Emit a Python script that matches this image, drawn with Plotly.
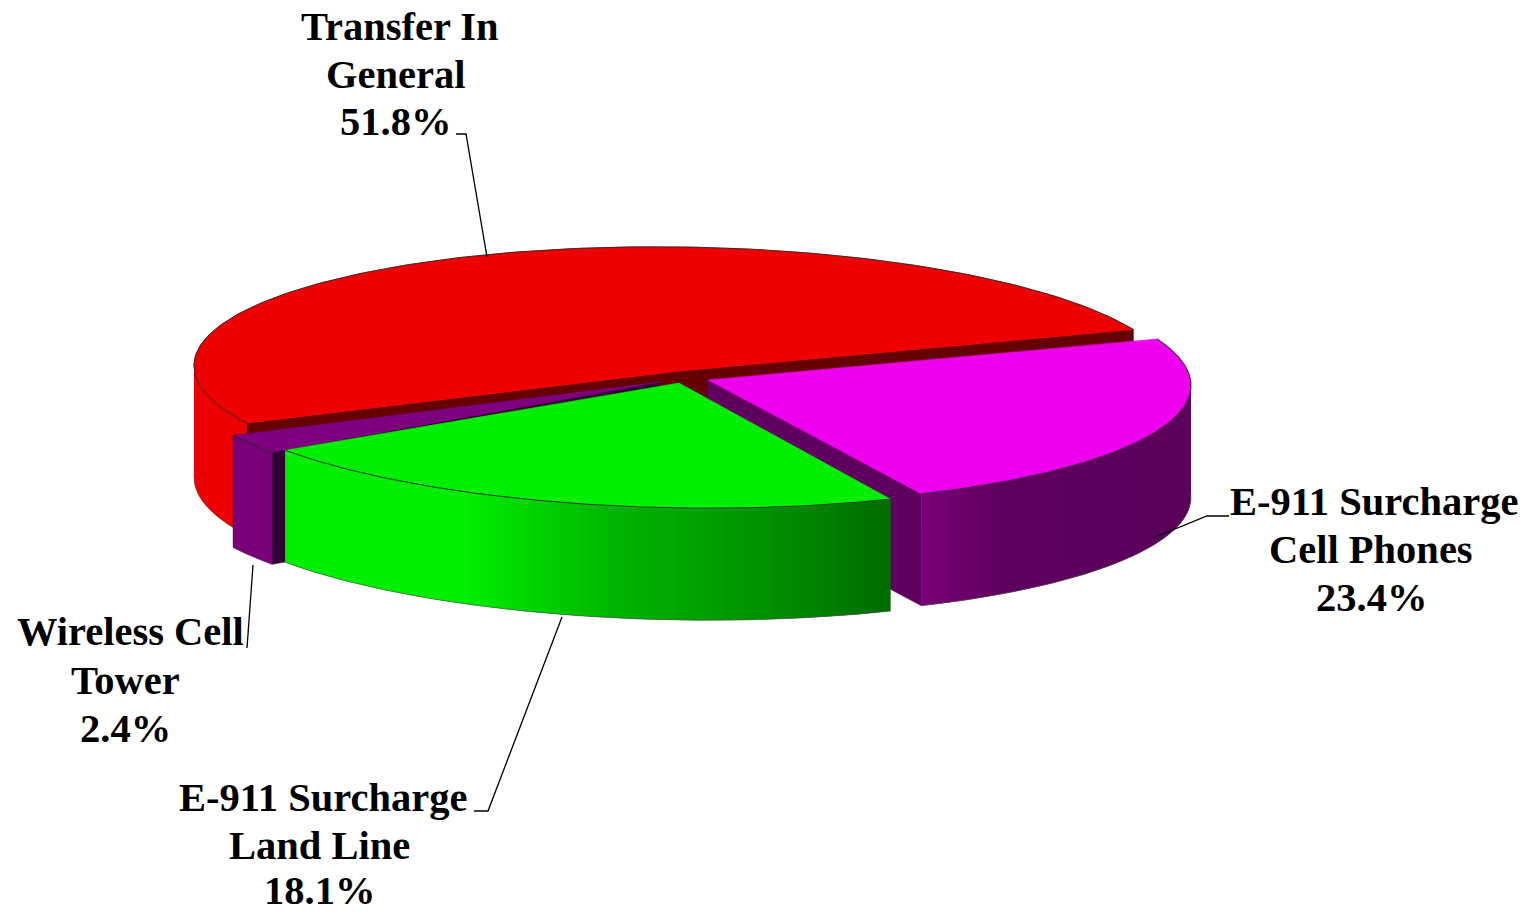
import numpy as np
import plotly.graph_objects as go

# ---- values ----
slice_names = ["Transfer In General", "Wireless Cell Tower", "E-911 Surcharge Land Line", "E-911 Surcharge Cell Phones"]
label_pcts = ["51.8%", "2.4%", "18.1%", "23.4%"]
# drawn arc widths as measured on the picture (percent of the circle)
arc_shares = [50.9, 2.4, 22.0, 23.5]
arc_gaps_after = [0.2, 0.0, 0.4, 0.5]

label_lines = [
    ["Transfer In", "General", "51.8%"],
    ["Wireless Cell", "Tower", "2.4%"],
    ["E-911 Surcharge", "Land Line", "18.1%"],
    ["E-911 Surcharge", "Cell Phones", "23.4%"],
]
label_x = [[400, 395, 395], [130, 125, 125], [323, 319, 319], [1374, 1371, 1371]]
label_y = [[26, 74, 121], [631, 680, 728], [797, 845, 890], [501, 549, 597]]
leader_x = [[456, 466, 487], [247, 253], [474, 488, 562], [1229, 1207, 1153]]
leader_y = [[134, 134, 257], [648, 565], [811, 811, 617], [516, 516, 538]]

# ---- style and layout of the pie ----
START = 23.5
RX, RY, SKEW, DEPTH = 490.0, 126.0, 0.015, 112.0
centers = [(684, 373), (668, 384), (681, 382), (701, 378)]
apexes = [(680, 371), (660, 382), (679, 383), (708, 380)]
top_col = ["#ee0000", "#7f007f", "#00ee00", "#ee00ee"]
wall_col = ["#660000", "#330033", "#006600", "#5f005f"]
side_stops = [
    [(0, "#ee0000"), (1, "#ee0000")],
    [(0, "#7a007a"), (1, "#7a007a")],
    [(0, "#00ee00"), (0.3, "#00ee00"), (0.55, "#00b400"), (0.7, "#00a000"), (0.85, "#008800"), (1, "#006c00")],
    [(0, "#7a007a"), (0.12, "#6e006e"), (0.3, "#600060"), (1, "#5c005c")],
]
side_range = [(165, None), (None, None), (None, None), (None, None)]
EDGE = "#2a2a2a"
draw_order = [0, 3, 1, 2]


def ell(c, t):
    r = np.radians(t)
    dx = RX * np.cos(r)
    return c[0] + dx, c[1] - RY * np.sin(r) + SKEW * dx


def hex2rgb(h):
    return np.array([int(h[i:i + 2], 16) for i in (1, 3, 5)], float)


def grad(stops, f):
    for (a, ca), (b, cb) in zip(stops, stops[1:]):
        if f <= b:
            w = 0 if b == a else (f - a) / (b - a)
            c = hex2rgb(ca) * (1 - w) + hex2rgb(cb) * w
            return "rgb(%d,%d,%d)" % tuple(c)
    return stops[-1][1]


def poly(fig, xs, ys, color, lw=0.6):
    fig.add_trace(go.Scatter(x=list(xs), y=list(ys), mode="lines", fill="toself", fillcolor=color,
                             line=dict(color=color, width=lw), hoverinfo="skip", showlegend=False))


def stroke(fig, xs, ys, color=EDGE, width=0.9):
    fig.add_trace(go.Scatter(x=list(xs), y=list(ys), mode="lines", line=dict(color=color, width=width),
                             hoverinfo="skip", showlegend=False))


# angular limits come from the arc shares
limits = []
a = START
for s, g in zip(arc_shares, arc_gaps_after):
    limits.append((a, a + s * 3.6))
    a += (s + g) * 3.6

fig = go.Figure()
for i in draw_order:
    t0, t1 = limits[i]
    c, ap = centers[i], apexes[i]
    # slice walls
    for t in (t0, t1):
        ex, ey = ell(c, t)
        if not (i == 3 and t == t1) and not (i == 2):
            poly(fig, [ap[0], ex, ex, ap[0], ap[0]], [ap[1], ey, ey + DEPTH, ap[1] + DEPTH, ap[1]], wall_col[i])
    # rim, as overlapping strips
    lo = side_range[i][0] if side_range[i][0] is not None else t0
    hi = side_range[i][1] if side_range[i][1] is not None else t1
    n = 70 if i in (2, 3) else 16
    edges = np.linspace(lo, hi, n + 1)
    xs_all = [ell(c, e)[0] for e in edges]
    xmin, xmax = min(xs_all), max(xs_all)
    for k in range(n):
        arc = np.linspace(edges[k], edges[min(k + 2, n)], 5)
        x0, y0 = ell(c, arc)
        f = ((ell(c, edges[k])[0] + ell(c, edges[k + 1])[0]) / 2 - xmin) / (xmax - xmin)
        xx = [*x0, *x0[::-1], x0[0]]
        yy = [*y0, *(y0[::-1] + DEPTH), y0[0]]
        poly(fig, xx, yy, grad(side_stops[i], f), 0)
    # top
    ts = np.linspace(t0, t1, 160)
    ax, ay = ell(c, ts)
    poly(fig, [ap[0], *ax, ap[0]], [ap[1], *ay, ap[1]], top_col[i])
    stroke(fig, ax, ay)
    # lower rim edge
    vis = ts[(np.sin(np.radians(ts)) < 0.03)]
    if len(vis):
        bx, by = ell(c, vis)
        stroke(fig, bx, by + DEPTH, "#555555", 0.7)

for lx, ly in zip(leader_x, leader_y):
    stroke(fig, lx, ly, "#000000", 1.3)

annotations = []
for lines, xs, ys in zip(label_lines, label_x, label_y):
    for txt, x, y in zip(lines, xs, ys):
        annotations.append(dict(x=x, y=y, xref="x", yref="y", text="<b>%s</b>" % txt, showarrow=False,
                                xanchor="center", yanchor="middle",
                                font=dict(family="Liberation Serif", size=40.5, color="#000000")))

fig.update_layout(
    width=1532, height=913, margin=dict(l=0, r=0, t=0, b=0),
    paper_bgcolor="white", plot_bgcolor="white", showlegend=False, annotations=annotations,
    xaxis=dict(range=[0, 1532], visible=False, fixedrange=True),
    yaxis=dict(range=[913, 0], visible=False, fixedrange=True),
)
fig.write_html("out.html", config=dict(displayModeBar=False),
               post_script="document.body.style.margin='0';document.documentElement.style.overflow='hidden';")
